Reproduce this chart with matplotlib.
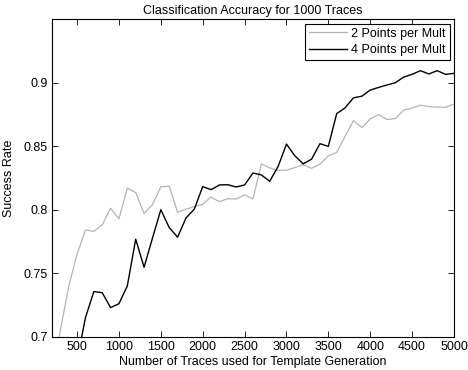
import numpy as np
import matplotlib
matplotlib.use("Agg")
import matplotlib.pyplot as plt

plt.rcParams['font.family'] = ['Liberation Sans', 'DejaVu Sans']
plt.rcParams['font.size'] = 9

# number of traces used for template generation
traces = list(range(200, 5001, 100))

# 2 points per mult
two_pts = [0.660, 0.705, 0.7395, 0.765, 0.7840, 0.7830, 0.7880, 0.8012, 0.7928, 0.8170,
           0.8135, 0.7970, 0.8040, 0.8180, 0.8185, 0.7980, 0.8004, 0.8025, 0.8043, 0.8100,
           0.8063, 0.8087, 0.8084, 0.8117, 0.8084, 0.8360, 0.8330, 0.8310, 0.8311, 0.8332,
           0.8355, 0.8326, 0.8358, 0.8425, 0.8451, 0.8578, 0.8702, 0.8646, 0.8715, 0.8749,
           0.8710, 0.8718, 0.8784, 0.8800, 0.8823, 0.8813, 0.8807, 0.8807, 0.8831]

# 4 points per mult
four_pts = [0.640, 0.650, 0.660, 0.681, 0.7150, 0.7355, 0.7347, 0.7229, 0.7260, 0.7400,
            0.7768, 0.7547, 0.7776, 0.8000, 0.7860, 0.7784, 0.7934, 0.8005, 0.8182, 0.8158,
            0.8195, 0.8197, 0.8179, 0.8195, 0.8289, 0.8274, 0.8224, 0.8340, 0.8517, 0.8425,
            0.8361, 0.8398, 0.8520, 0.8499, 0.8757, 0.8802, 0.8881, 0.8894, 0.8942, 0.8963,
            0.8982, 0.9000, 0.9045, 0.9066, 0.9095, 0.9069, 0.9095, 0.9066, 0.9074]

fig = plt.figure(figsize=(4.68, 3.70), dpi=100)
ax = fig.add_axes([0.111, 0.090, 0.859, 0.858])

ax.plot(traces, two_pts, color='#b4b4b4', lw=0.9, label='2 Points per Mult')
ax.plot(traces, four_pts, color='black', lw=1.0, label='4 Points per Mult')

ax.set_xlim(200, 5000)
ax.set_ylim(0.7, 0.95)
ax.set_xticks(range(500, 5001, 500))
ax.set_yticks([0.7, 0.75, 0.8, 0.85, 0.9])
ax.set_yticklabels(['0.7', '0.75', '0.8', '0.85', '0.9'])
ax.tick_params(direction='in', top=True, right=True, length=4, width=0.6, pad=3)
for s in ax.spines.values():
    s.set_linewidth(0.8)

ax.set_title('Classification Accuracy for 1000 Traces', fontsize=9, pad=4)
ax.set_xlabel('Number of Traces used for Template Generation', labelpad=2)
ax.set_ylabel('Success Rate', labelpad=6)

leg = ax.legend(loc='upper right', fancybox=False, framealpha=1, edgecolor='black',
                handlelength=3.1, borderaxespad=0.35, labelspacing=0.38,
                borderpad=0.32, handletextpad=0.3)
leg.get_frame().set_linewidth(0.8)

fig.savefig('out.png', dpi=100)
